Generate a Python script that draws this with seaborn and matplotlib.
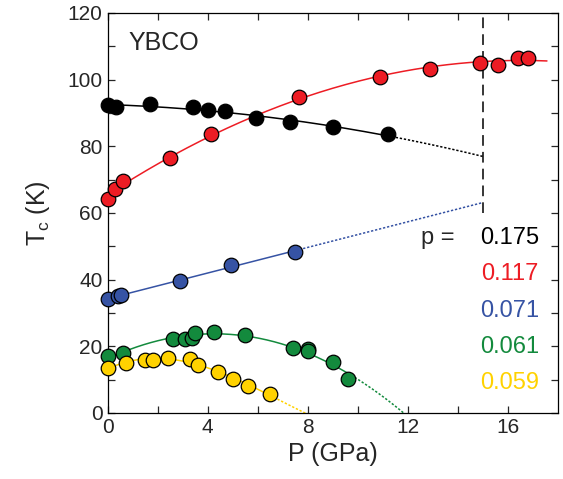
import numpy as np
import matplotlib
matplotlib.use('Agg')
import matplotlib.pyplot as plt
import seaborn as sns

sns.set_style('ticks')
plt.rcParams['font.family'] = ['Liberation Sans', 'DejaVu Sans']
plt.rcParams['mathtext.default'] = 'regular'
plt.rcParams['xtick.direction'] = 'in'
plt.rcParams['ytick.direction'] = 'in'

# p = 0.175 (black)
p175_x = [0.0, 0.34, 1.7, 3.43, 4.0, 4.7, 5.93, 7.3, 9.03, 11.2]
p175_y = [92.4, 91.7, 92.7, 91.7, 90.9, 90.6, 88.4, 87.4, 85.7, 83.6]
# p = 0.117 (red)
p117_x = [0.0, 0.3, 0.6, 2.5, 4.13, 7.67, 10.9, 12.9, 14.9, 15.6, 16.4, 16.8]
p117_y = [64.2, 67.1, 69.6, 76.4, 83.7, 94.7, 100.9, 103.3, 105.1, 104.5, 106.4, 106.6]
# p = 0.071 (blue)
p071_x = [0.03, 0.4, 0.53, 2.9, 4.94, 7.5]
p071_y = [34.2, 35.1, 35.4, 39.6, 44.4, 48.4]
# p = 0.061 (green)
p061_x = [0.0, 0.6, 2.63, 3.1, 3.37, 3.5, 4.27, 5.5, 7.4, 8.0, 8.02, 9.0, 9.6]
p061_y = [17.1, 18.1, 22.2, 22.1, 22.4, 24.1, 24.3, 23.3, 19.6, 19.1, 18.5, 15.2, 10.2]
# p = 0.059 (yellow)
p059_x = [0.0, 0.73, 1.5, 1.8, 2.4, 3.3, 3.6, 4.4, 5.0, 5.63, 6.5]
p059_y = [13.6, 14.9, 15.9, 15.9, 16.6, 16.3, 14.3, 12.4, 10.1, 8.2, 5.6]

dopings = ['0.175', '0.117', '0.071', '0.061', '0.059']
colors = ['#000000', '#ed1c24', '#3653a4', '#138a3d', '#ffd200']

series = [
    # x, y, fit order, solid end, dotted end
    (p175_x, p175_y, 2, 11.2, 15.0),
    (p117_x, p117_y, 2, 17.57, None),
    (p071_x, p071_y, 1, 7.5, 15.0),
    (p061_x, p061_y, 2, 9.6, 12.0),
    (p059_x, p059_y, 3, 6.5, 8.0),
]

fig, ax = plt.subplots(figsize=(5.63, 4.79), dpi=100)
fig.subplots_adjust(left=0.191, right=0.9906, bottom=0.1378, top=0.9729)

for (x, y, order, x_end, x_dot), col in zip(series, colors):
    coef = np.polyfit(x, y, order)
    xs = np.linspace(0, x_end, 200)
    ax.plot(xs, np.polyval(coef, xs), color=col, lw=1.1, zorder=2)
    if x_dot is not None:
        xd = np.linspace(x_end, x_dot, 100)
        ax.plot(xd, np.polyval(coef, xd), color=col, lw=1.1,
                linestyle=(0, (1.5, 1.2)), zorder=2)
    sns.scatterplot(x=x, y=y, ax=ax, color=col, s=110, edgecolor='black',
                    linewidth=0.9, zorder=3, clip_on=False)

# vertical dashed marker at 15 GPa
ax.plot([15, 15], [60, 120], color='black', lw=1.1, linestyle=(0, (7, 4)), zorder=1)

ax.set_xlim(0, 18)
ax.set_ylim(0, 120)
ax.set_xticks([0, 4, 8, 12, 16])
ax.set_xticks([2, 6, 10, 14], minor=True)
ax.set_yticks([0, 20, 40, 60, 80, 100, 120])
ax.set_yticks([10, 30, 50, 70, 90, 110], minor=True)
ax.tick_params(which='both', top=True, right=True, labelsize=15, width=0.9)
ax.tick_params(which='major', length=5)
ax.tick_params(which='minor', length=5)
for sp in ax.spines.values():
    sp.set_linewidth(0.9)
    sp.set_color('black')

ax.set_xlabel('P (GPa)', fontsize=18, labelpad=4)
ax.set_ylabel('T$_c$ (K)', fontsize=18, labelpad=11)

ax.text(0.85, 114.5, 'YBCO', fontsize=18, ha='left', va='top')
ax.text(12.55, 52.5, 'p =', fontsize=17, ha='left', va='center')
for i, (d, c) in enumerate(zip(dopings, colors)):
    ax.text(17.25, 52.5 - i * 10.9, d, color=c, fontsize=17, ha='right', va='center')

fig.savefig('out.png', dpi=100)
